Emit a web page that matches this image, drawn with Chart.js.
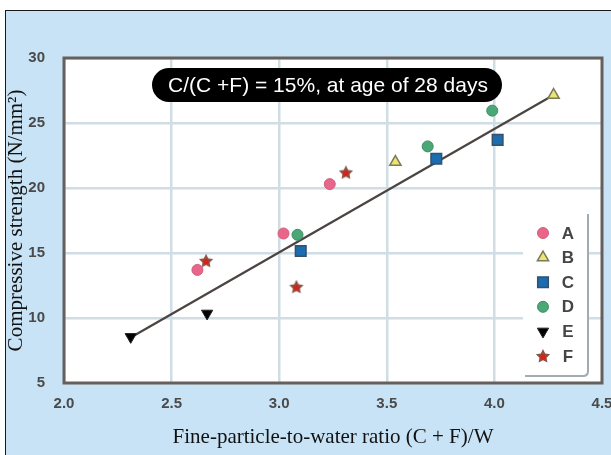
<!DOCTYPE html>
<html>
<head>
<meta charset="utf-8">
<script src="https://cdn.jsdelivr.net/npm/chart.js@4.4.1/dist/chart.umd.min.js"></script>
<style>
    html, body { margin: 0; padding: 0; background: #fff; }
    #wrap { width: 611px; height: 455px; position: relative; }
</style>
</head>
<body>
<div id="wrap"><canvas id="myScatterChart" width="611" height="455"></canvas></div>
<script>
// datos
const seriesNames = ['A', 'B', 'C', 'D', 'E', 'F'];
const aRatio = [2.62, 3.02, 3.235];
const aStrength = [13.7, 16.5, 20.3];
const bRatio = [3.54, 4.275];
const bStrength = [22.0, 27.15];
const cRatio = [3.10, 3.73, 4.015];
const cStrength = [15.15, 22.25, 23.7];
const dRatio = [3.085, 3.69, 3.99];
const dStrength = [16.4, 23.2, 25.95];
const eRatio = [2.31, 2.665];
const eStrength = [8.55, 10.35];
const fRatio = [2.66, 3.08, 3.31];
const fStrength = [14.4, 12.4, 21.2];
const fitRatio = [2.31, 4.275];
const fitStrength = [8.5, 27.15];
const xTicks = [2.0, 2.5, 3.0, 3.5, 4.0, 4.5];
const yTicks = [5, 10, 15, 20, 25, 30];
const titleText = 'C/(C +F) = 15%, at age of 28 days';

function toPoints(xs, ys) {
    return xs.map((x, i) => ({ x: x, y: ys[i] }));
}

function makeStar(size) {
    const c = document.createElement('canvas');
    c.width = size;
    c.height = size;
    const g = c.getContext('2d');
    const cx = size / 2, cy = size / 2 + 0.5, R = size / 2 - 0.5, r = R * 0.5;
    g.beginPath();
    for (let i = 0; i < 10; i++) {
        const a = -Math.PI / 2 + i * Math.PI / 5;
        const rr = i % 2 ? r : R;
        g.lineTo(cx + rr * Math.cos(a), cy + rr * Math.sin(a));
    }
    g.closePath();
    g.fillStyle = '#8c5242';
    g.fill();
    g.beginPath();
    g.arc(cx, cy + 0.5, R * 0.36, 0, Math.PI * 2);
    g.fillStyle = '#dc1f1a';
    g.fill();
    return c;
}

const starImg = makeStar(16);

// fondo, marco, etiqueta y leyenda
const decorPlugin = {
    id: 'decor',
    beforeDraw(chart) {
        const ctx = chart.ctx;
        const a = chart.chartArea;
        ctx.save();
        ctx.fillStyle = '#ffffff';
        ctx.fillRect(0, 0, chart.width, chart.height);
        ctx.fillStyle = '#c8e3f5';
        ctx.fillRect(5, 10, chart.width, chart.height);
        ctx.strokeStyle = '#1a1a1a';
        ctx.lineWidth = 1;
        ctx.strokeRect(5.5, 10.5, chart.width + 10, chart.height + 10);
        ctx.fillStyle = '#ffffff';
        ctx.fillRect(a.left, a.top, a.right - a.left, a.bottom - a.top);
        ctx.restore();
    },
    afterDraw(chart) {
        const ctx = chart.ctx;
        const a = chart.chartArea;
        ctx.save();

        // marco del area
        ctx.strokeStyle = '#65605d';
        ctx.lineWidth = 3;
        ctx.strokeRect(a.left, a.top, a.right - a.left, a.bottom - a.top);

        // etiqueta negra redondeada
        const px = 152, py = 68, pw = 350, ph = 34, pr = 17;
        ctx.beginPath();
        ctx.moveTo(px + pr, py);
        ctx.lineTo(px + pw - pr, py);
        ctx.arc(px + pw - pr, py + pr, pr, -Math.PI / 2, Math.PI / 2);
        ctx.lineTo(px + pr, py + ph);
        ctx.arc(px + pr, py + pr, pr, Math.PI / 2, Math.PI * 1.5);
        ctx.closePath();
        ctx.fillStyle = '#000000';
        ctx.fill();
        ctx.fillStyle = '#ffffff';
        ctx.font = '21px "Liberation Sans", Arial, sans-serif';
        ctx.textAlign = 'center';
        ctx.textBaseline = 'middle';
        ctx.fillText(titleText, px + pw / 2 + 1, py + ph / 2 + 1);

        // leyenda
        const lx = 523, ly = 214, lw = 65, lh = 162;
        ctx.fillStyle = '#ffffff';
        ctx.fillRect(lx, ly, lw, lh);
        ctx.strokeStyle = '#a2abb0';
        ctx.lineWidth = 2;
        ctx.beginPath();
        ctx.moveTo(lx + lw, ly);
        ctx.lineTo(lx + lw, ly + lh - 5);
        ctx.quadraticCurveTo(lx + lw, ly + lh, lx + lw - 5, ly + lh);
        ctx.lineTo(lx + 2, ly + lh);
        ctx.stroke();

        ctx.font = 'bold 17px "Liberation Sans", Arial, sans-serif';
        ctx.textAlign = 'center';
        ctx.textBaseline = 'middle';
        seriesNames.forEach((name, i) => {
            const ds = chart.data.datasets[i];
            const y = 233 + i * 24.6;
            ctx.fillStyle = ds.backgroundColor;
            ctx.strokeStyle = ds.borderColor;
            ctx.lineWidth = ds.borderWidth;
            Chart.helpers.drawPoint(ctx, {
                pointStyle: ds.pointStyle,
                rotation: ds.rotation || 0,
                radius: ds.pointRadius,
                borderWidth: ds.borderWidth
            }, 543, y);
            ctx.fillStyle = '#454545';
            ctx.fillText(name, 568, y + 1);
        });
        ctx.restore();
    }
};

function createScatterChart() {
    const ctx = document.getElementById('myScatterChart').getContext('2d');

    new Chart(ctx, {
        type: 'scatter',
        data: {
            datasets: [
                {
                    label: 'A', data: toPoints(aRatio, aStrength),
                    pointStyle: 'circle', pointRadius: 5.5,
                    backgroundColor: '#e9658a', borderColor: '#d0607c', borderWidth: 1
                },
                {
                    label: 'B', data: toPoints(bRatio, bStrength),
                    pointStyle: 'triangle', pointRadius: 6.5,
                    backgroundColor: '#ebe571', borderColor: '#7d7a58', borderWidth: 1.5
                },
                {
                    label: 'C', data: toPoints(cRatio, cStrength),
                    pointStyle: 'rect', pointRadius: 7.5,
                    backgroundColor: '#1b6db0', borderColor: '#35506a', borderWidth: 1.5
                },
                {
                    label: 'D', data: toPoints(dRatio, dStrength),
                    pointStyle: 'circle', pointRadius: 5.5,
                    backgroundColor: '#4aa877', borderColor: '#3f8a66', borderWidth: 1
                },
                {
                    label: 'E', data: toPoints(eRatio, eStrength),
                    pointStyle: 'triangle', pointRadius: 6.5, rotation: 180, pointRotation: 180,
                    backgroundColor: '#000000', borderColor: '#222222', borderWidth: 1
                },
                {
                    label: 'F', data: toPoints(fRatio, fStrength),
                    pointStyle: starImg, pointRadius: 8,
                    backgroundColor: '#dc1f1a', borderColor: '#8c5242', borderWidth: 1
                },
                {
                    label: 'fit', type: 'line', data: toPoints(fitRatio, fitStrength),
                    showLine: true, pointRadius: 0, borderColor: '#4b4441', borderWidth: 2.2,
                    order: 10
                }
            ]
        },
        options: {
            responsive: false,
            animation: false,
            layout: { padding: { left: 0, right: 8, top: 58, bottom: 0 } },
            plugins: {
                legend: { display: false },
                tooltip: { enabled: false }
            },
            scales: {
                x: {
                    type: 'linear',
                    min: 2.0,
                    max: 4.5,
                    afterBuildTicks: s => { s.ticks = xTicks.map(v => ({ value: v })); },
                    afterFit: s => { s.height = 72; s.paddingLeft = 0; s.paddingRight = 0; },
                    grid: { color: '#d0dde4', lineWidth: 2.5, drawTicks: false },
                    border: { display: false },
                    ticks: {
                        padding: 12,
                        color: '#4a4a4a',
                        font: { family: '"Liberation Sans", Arial, sans-serif', size: 15, weight: 'bold' },
                        callback: v => v.toFixed(1)
                    },
                    title: {
                        display: true,
                        text: 'Fine-particle-to-water ratio (C + F)/W',
                        color: '#111111',
                        font: { family: '"Liberation Serif", "Times New Roman", serif', size: 21 },
                        padding: { top: 0, bottom: 5 }
                    }
                },
                y: {
                    type: 'linear',
                    min: 5,
                    max: 30,
                    afterBuildTicks: s => { s.ticks = yTicks.map(v => ({ value: v })); },
                    afterFit: s => { s.width = 64; s.paddingTop = 0; s.paddingBottom = 0; },
                    grid: { color: '#d0dde4', lineWidth: 2.5, drawTicks: false },
                    border: { display: false },
                    ticks: {
                        padding: 19,
                        color: '#4a4a4a',
                        font: { family: '"Liberation Sans", Arial, sans-serif', size: 15, weight: 'bold' }
                    },
                    title: {
                        display: true,
                        text: 'Compressive strength (N/mm²)',
                        color: '#111111',
                        font: { family: '"Liberation Serif", "Times New Roman", serif', size: 21 },
                        padding: { top: 4, bottom: 0 }
                    }
                }
            }
        },
        plugins: [decorPlugin]
    });
}

document.addEventListener('DOMContentLoaded', createScatterChart);
</script>
</body>
</html>
